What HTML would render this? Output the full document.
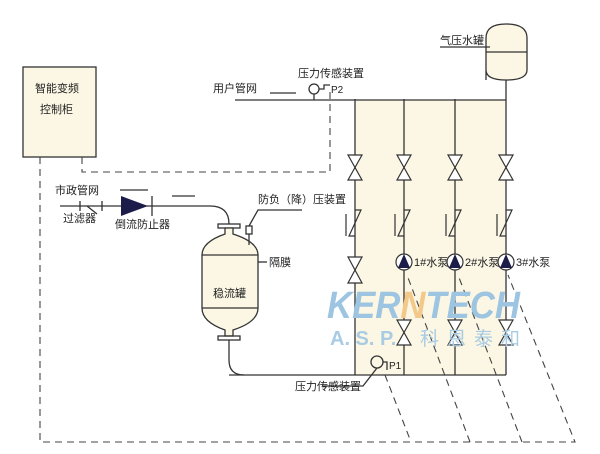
<!DOCTYPE html><html><head><style>body{margin:0;background:#fff}svg{display:block}text{font-family:"Liberation Sans","Noto Sans CJK SC",sans-serif;fill:#222}</style></head><body>
<svg width="600" height="454" viewBox="0 0 600 454" xmlns="http://www.w3.org/2000/svg">
<rect x="355" y="100" width="150" height="275" fill="#fbf7e4"/>
<g stroke="#333" stroke-width="1.3" fill="none">
<rect x="23" y="67" width="73" height="90" fill="#fbf7e4"/>
<path d="M486,80 V38 Q486,24 506,24 Q527,24 527,38 V70 Q527,80 506,80 Q486,80 486,70Z" fill="#fbf7e4"/>
<line x1="486" y1="52" x2="527" y2="52"/>
<line x1="440" y1="47" x2="490" y2="47"/>
<line x1="506" y1="80" x2="506" y2="99"/>
<line x1="235" y1="100" x2="506" y2="100"/>
<line x1="355" y1="99" x2="355" y2="375"/>
<line x1="404" y1="99" x2="404" y2="375"/>
<line x1="455" y1="99" x2="455" y2="375"/>
<line x1="506" y1="99" x2="506" y2="375"/>
<line x1="229" y1="375" x2="506" y2="375"/>
<path d="M229,340 V360 Q229,375 244,375"/>
<line x1="60" y1="206" x2="210" y2="206"/>
<path d="M210,206 Q229,206 229,224"/>
<line x1="80" y1="201" x2="80" y2="211"/><line x1="102" y1="201" x2="102" y2="211"/><line x1="87" y1="206" x2="97" y2="214"/>
<line x1="152" y1="196" x2="152" y2="216"/>
<line x1="120" y1="190" x2="148" y2="190"/>
<line x1="172" y1="196" x2="195" y2="196"/>
<rect x="218" y="224" width="22" height="4"/>
<path d="M225,228 V234 Q202,242 202,255 V308 Q202,322 225,330 V336 H233 V330 Q258,322 258,308 V255 Q258,242 233,234 V228 Z" fill="#fbf7e4"/>
<line x1="202" y1="255" x2="258" y2="255"/><line x1="202" y1="308" x2="258" y2="308"/>
<rect x="218" y="336" width="22" height="4"/>
<line x1="258" y1="262" x2="267" y2="262"/>
<rect x="246" y="226" width="6" height="8"/>
<path d="M249,226 L258,210 H302"/>
<line x1="249" y1="234" x2="249" y2="245"/>
<circle cx="314" cy="89" r="5"/><path d="M319,89 H324 V85 H330"/><line x1="314" y1="94" x2="314" y2="100"/>
<circle cx="377" cy="362" r="6"/><path d="M383,362 H387 V370"/>
<path d="M377,368 L363,386 H323"/>
<line x1="270" y1="93" x2="296" y2="93"/>
</g>
<g stroke="#333" stroke-width="1.2" fill="#fff">
<path d="M348,155 H362 L348,180 H362 Z M397,155 H411 L397,180 H411 Z M448,155 H462 L448,180 H462 Z M499,155 H513 L499,180 H513 Z"/>
<path d="M348,257 H362 L348,283 H362 Z M397,320 H411 L397,345 H411 Z M448,320 H462 L448,345 H462 Z M499,320 H513 L499,345 H513 Z"/>
<path fill="none" d="M355,210 H361 L349,236 H355 M404,210 H410 L398,236 H404 M455,210 H461 L449,236 H455 M506,210 H512 L500,236 H506"/>
<path fill="none" d="M346,236 V214 M395,236 V214 M446,236 V214 M497,236 V214"/>
<circle cx="404" cy="262" r="8"/><circle cx="455" cy="262" r="8"/><circle cx="506" cy="262" r="8"/>
</g>
<path d="M121,196 L148,206 L121,216Z" fill="#1c1c4a"/>
<path d="M398,268 L404,254 L410,268Z M449,268 L455,254 L461,268Z M500,268 L506,254 L512,268Z" fill="#1c1c4a"/>
<g stroke="#444" stroke-width="1.1" fill="none" stroke-dasharray="7,5">
<path d="M82,157 V172 H330 V90"/>
<path d="M40,157 V442 H575 L508,275"/>
<path d="M385,375 L411,442 M470,442 L407,275 M522,442 L458,275"/>
</g>
<text x="327" y="318" font-size="38" font-weight="bold" font-style="italic" textLength="193" lengthAdjust="spacingAndGlyphs" style="fill:#9dc4e0">KER<tspan style="fill:#f3c98a">N</tspan>TECH</text>
<text x="330" y="345" font-size="20" font-weight="bold" style="fill:#a9cce4">A. S. P.</text>
<text x="420" y="345" font-size="19" style="fill:#a9cce4" textLength="100">科恩泰和</text>
<g font-size="11">
<text x="35" y="92">智能变频</text><text x="40" y="113">控制柜</text>
<text x="213" y="92">用户管网</text>
<text x="298" y="77">压力传感装置</text>
<text x="331" y="93" font-size="10">P2</text>
<text x="440" y="44">气压水罐</text>
<text x="55" y="194">市政管网</text>
<text x="63" y="222">过滤器</text>
<text x="115" y="228">倒流防止器</text>
<text x="258" y="203">防负（降）压装置</text>
<text x="269" y="266">隔膜</text>
<text x="213" y="297">稳流罐</text>
<text x="414" y="266">1#水泵</text>
<text x="465" y="266">2#水泵</text>
<text x="516" y="266">3#水泵</text>
<text x="389" y="369" font-size="10">P1</text>
<text x="295" y="390">压力传感装置</text>
</g>
</svg>
</body></html>
